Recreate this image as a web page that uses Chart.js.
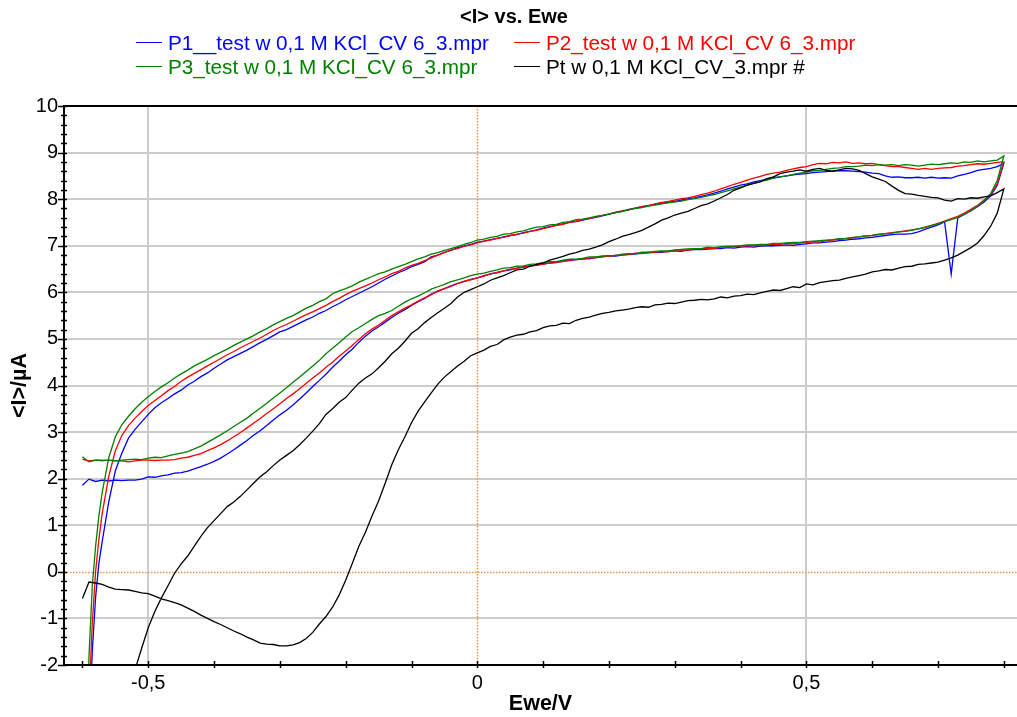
<!DOCTYPE html>
<html>
<head>
<meta charset="utf-8">
<title>&lt;I&gt; vs. Ewe</title>
<script src="https://cdn.jsdelivr.net/npm/chart.js@4/dist/chart.umd.min.js"></script>
<style>
  html, body { margin: 0; padding: 0; background: #fff; }
  #wrap { position: relative; width: 1017px; height: 717px; overflow: hidden;
          font-family: "Liberation Sans", Arial, sans-serif; }
  #plot { position: absolute; left: 0; top: 0; }
  #title { position: absolute; left: 514px; top: 5px; transform: translateX(-50%);
           font-weight: bold; font-size: 20px; line-height: 23px; white-space: nowrap; }
  #legend { position: absolute; left: 136px; top: 31px; display: grid;
            grid-template-columns: 378px auto; }
  .item { display: flex; align-items: flex-start; font-size: 20.7px; line-height: 24px; white-space: nowrap; }
  .swatch { width: 26px; height: 0; border-top: 1.5px solid; margin-top: 11px; margin-right: 6px; }
</style>
</head>
<body>
<div id="wrap">
  <canvas id="plot" width="1017" height="717"></canvas>
  <div id="title">&lt;I&gt; vs. Ewe</div>
  <div id="legend"></div>
</div>
<script>
// Potential steps of the forward sweep (V), -0.6 V up to the 0.8 V vertex
const sweepForwardE = [
  -0.60,-0.59,-0.58,-0.57,-0.56,-0.55,-0.54,-0.53,-0.52,-0.51,
  -0.50,-0.49,-0.48,-0.47,-0.46,-0.45,-0.44,-0.43,-0.42,-0.41,
  -0.40,-0.39,-0.38,-0.37,-0.36,-0.35,-0.34,-0.33,-0.32,-0.31,
  -0.30,-0.29,-0.28,-0.27,-0.26,-0.25,-0.24,-0.23,-0.22,-0.21,
  -0.20,-0.19,-0.18,-0.17,-0.16,-0.15,-0.14,-0.13,-0.12,-0.11,
  -0.10,-0.09,-0.08,-0.07,-0.06,-0.05,-0.04,-0.03,-0.02,-0.01,
  0.00,0.01,0.02,0.03,0.04,0.05,0.06,0.07,0.08,0.09,
  0.10,0.11,0.12,0.13,0.14,0.15,0.16,0.17,0.18,0.19,
  0.20,0.21,0.22,0.23,0.24,0.25,0.26,0.27,0.28,0.29,
  0.30,0.31,0.32,0.33,0.34,0.35,0.36,0.37,0.38,0.39,
  0.40,0.41,0.42,0.43,0.44,0.45,0.46,0.47,0.48,0.49,
  0.50,0.51,0.52,0.53,0.54,0.55,0.56,0.57,0.58,0.59,
  0.60,0.61,0.62,0.63,0.64,0.65,0.66,0.67,0.68,0.69,
  0.70,0.71,0.72,0.73,0.74,0.75,0.76,0.77,0.78,0.79,
  0.80
];

// Potential steps of the return sweep (V), listed from low to high potential
const sweepReturnE = [
  -0.600,-0.595,-0.590,-0.585,-0.580,-0.575,
  -0.57,-0.56,-0.55,-0.54,-0.53,-0.52,-0.51,
  -0.50,-0.49,-0.48,-0.47,-0.46,-0.45,-0.44,-0.43,-0.42,-0.41,
  -0.40,-0.39,-0.38,-0.37,-0.36,-0.35,-0.34,-0.33,-0.32,-0.31,
  -0.30,-0.29,-0.28,-0.27,-0.26,-0.25,-0.24,-0.23,-0.22,-0.21,
  -0.20,-0.19,-0.18,-0.17,-0.16,-0.15,-0.14,-0.13,-0.12,-0.11,
  -0.10,-0.09,-0.08,-0.07,-0.06,-0.05,-0.04,-0.03,-0.02,-0.01,
  0.00,0.01,0.02,0.03,0.04,0.05,0.06,0.07,0.08,0.09,
  0.10,0.11,0.12,0.13,0.14,0.15,0.16,0.17,0.18,0.19,
  0.20,0.21,0.22,0.23,0.24,0.25,0.26,0.27,0.28,0.29,
  0.30,0.31,0.32,0.33,0.34,0.35,0.36,0.37,0.38,0.39,
  0.40,0.41,0.42,0.43,0.44,0.45,0.46,0.47,0.48,0.49,
  0.50,0.51,0.52,0.53,0.54,0.55,0.56,0.57,0.58,0.59,
  0.60,0.61,0.62,0.63,0.64,0.65,0.66,0.67,0.68,0.69,
  0.70,0.71,0.72,0.73,0.74,0.75,0.76,0.77,0.78,0.79
];

// <I> (µA), forward sweep
const p1Forward = [
  1.86,1.99,1.94,1.97,1.95,1.97,1.96,1.97,1.97,1.99,
  2.04,2.03,2.06,2.08,2.12,2.13,2.16,2.21,2.26,2.31,
  2.37,2.44,2.53,2.62,2.72,2.82,2.93,3.03,3.14,3.26,
  3.37,3.47,3.58,3.71,3.84,3.98,4.11,4.24,4.39,4.52,
  4.66,4.78,4.93,5.06,5.17,5.26,5.36,5.46,5.55,5.63,
  5.72,5.80,5.87,5.96,6.02,6.08,6.14,6.19,6.23,6.28,
  6.31,6.36,6.39,6.43,6.46,6.48,6.52,6.54,6.57,6.58,
  6.61,6.63,6.64,6.67,6.68,6.70,6.72,6.72,6.75,6.76,
  6.78,6.78,6.80,6.82,6.82,6.84,6.85,6.86,6.86,6.88,
  6.89,6.88,6.91,6.92,6.92,6.93,6.94,6.94,6.96,6.95,
  6.97,6.98,6.97,6.99,7.00,7.00,7.01,7.02,7.01,7.03,
  7.04,7.06,7.06,7.08,7.09,7.11,7.12,7.14,7.15,7.17,
  7.18,7.20,7.22,7.24,7.25,7.25,7.26,7.30,7.35,7.40,
  7.45,7.51,6.39,7.60,7.67,7.75,7.84,7.94,8.07,8.30,
  8.77
];
const p2Forward = [
  2.42,2.38,2.40,2.39,2.40,2.38,2.38,2.36,2.38,2.40,
  2.40,2.39,2.40,2.40,2.41,2.44,2.46,2.50,2.54,2.60,
  2.66,2.73,2.81,2.90,2.99,3.09,3.19,3.29,3.40,3.50,
  3.61,3.72,3.82,3.93,4.05,4.16,4.27,4.39,4.50,4.63,
  4.74,4.86,4.99,5.11,5.21,5.30,5.40,5.50,5.58,5.66,
  5.73,5.81,5.88,5.95,6.03,6.08,6.13,6.19,6.24,6.27,
  6.31,6.35,6.40,6.42,6.46,6.50,6.51,6.55,6.56,6.59,
  6.60,6.63,6.65,6.66,6.69,6.70,6.71,6.74,6.74,6.77,
  6.77,6.80,6.80,6.81,6.84,6.83,6.86,6.86,6.88,6.87,
  6.90,6.91,6.90,6.93,6.93,6.95,6.94,6.97,6.97,6.98,
  6.99,7.00,7.01,7.00,7.02,7.03,7.03,7.05,7.04,7.06,
  7.07,7.09,7.08,7.11,7.12,7.14,7.15,7.17,7.19,7.21,
  7.22,7.25,7.26,7.28,7.30,7.32,7.34,7.36,7.40,7.44,
  7.48,7.53,7.58,7.63,7.70,7.78,7.87,7.98,8.10,8.33,
  8.80
];
const p3Forward = [
  2.47,2.36,2.40,2.39,2.40,2.38,2.40,2.41,2.42,2.41,
  2.44,2.46,2.45,2.49,2.52,2.55,2.58,2.64,2.70,2.78,
  2.86,2.94,3.03,3.12,3.21,3.30,3.41,3.51,3.62,3.73,
  3.84,3.95,4.07,4.18,4.30,4.42,4.54,4.68,4.80,4.92,
  5.04,5.16,5.24,5.33,5.42,5.50,5.55,5.61,5.70,5.79,
  5.86,5.92,5.99,6.07,6.12,6.17,6.23,6.27,6.31,6.36,
  6.39,6.41,6.45,6.48,6.52,6.53,6.56,6.57,6.60,6.61,
  6.64,6.66,6.66,6.69,6.71,6.71,6.73,6.76,6.76,6.78,
  6.79,6.79,6.82,6.83,6.83,6.86,6.86,6.88,6.89,6.89,
  6.91,6.92,6.93,6.94,6.94,6.97,6.96,6.98,6.99,6.99,
  7.00,7.02,7.02,7.03,7.03,7.05,7.05,7.06,7.07,7.07,
  7.09,7.10,7.11,7.12,7.13,7.15,7.16,7.18,7.19,7.21,
  7.22,7.24,7.26,7.27,7.30,7.31,7.33,7.36,7.39,7.43,
  7.47,7.52,7.56,7.61,7.68,7.75,7.85,7.97,8.12,8.40,
  8.93
];
const ptForward = [
  -0.57,-0.22,-0.24,-0.27,-0.33,-0.37,-0.38,-0.39,-0.42,-0.45,
  -0.47,-0.52,-0.58,-0.62,-0.66,-0.71,-0.78,-0.85,-0.93,-1.00,
  -1.07,-1.13,-1.20,-1.27,-1.33,-1.40,-1.46,-1.53,-1.55,-1.56,
  -1.59,-1.59,-1.57,-1.52,-1.43,-1.30,-1.12,-0.96,-0.76,-0.50,
  -0.18,0.18,0.55,0.85,1.20,1.52,1.90,2.30,2.62,2.90,
  3.20,3.45,3.65,3.84,4.03,4.18,4.30,4.42,4.52,4.64,
  4.70,4.76,4.84,4.88,4.98,5.04,5.08,5.10,5.15,5.18,
  5.24,5.28,5.29,5.34,5.33,5.40,5.44,5.47,5.51,5.55,
  5.57,5.60,5.62,5.64,5.67,5.69,5.68,5.73,5.74,5.77,
  5.76,5.79,5.82,5.83,5.85,5.84,5.86,5.90,5.88,5.92,
  5.93,5.96,5.95,5.99,6.02,6.05,6.04,6.08,6.12,6.10,
  6.18,6.16,6.21,6.23,6.25,6.26,6.30,6.33,6.36,6.39,
  6.44,6.46,6.49,6.48,6.52,6.55,6.56,6.60,6.61,6.63,
  6.65,6.69,6.74,6.80,6.88,6.96,7.06,7.22,7.42,7.70,
  8.22
];

// <I> (µA), return sweep, same order as sweepReturnE
const p1Return = [
  -9.0,-6.0,-3.4,-1.7,-0.55,0.18,
  0.65,1.50,2.17,2.55,2.87,3.06,3.22,
  3.38,3.52,3.63,3.72,3.82,3.90,4.01,4.09,4.19,4.27,
  4.37,4.46,4.55,4.62,4.69,4.76,4.84,4.92,4.99,5.07,
  5.15,5.20,5.27,5.34,5.41,5.47,5.55,5.61,5.69,5.76,
  5.84,5.91,5.98,6.05,6.12,6.20,6.28,6.35,6.42,6.48,
  6.55,6.60,6.66,6.76,6.80,6.86,6.90,6.96,6.99,7.03,
  7.07,7.10,7.13,7.16,7.19,7.22,7.24,7.28,7.31,7.34,
  7.38,7.41,7.44,7.47,7.50,7.52,7.55,7.58,7.61,7.64,
  7.68,7.71,7.74,7.78,7.81,7.84,7.86,7.89,7.91,7.93,
  7.95,7.98,8.01,8.03,8.06,8.09,8.13,8.17,8.22,8.26,
  8.30,8.33,8.37,8.40,8.43,8.46,8.48,8.50,8.52,8.54,
  8.55,8.57,8.58,8.59,8.60,8.61,8.61,8.60,8.59,8.58,
  8.56,8.55,8.50,8.47,8.48,8.46,8.46,8.47,8.45,8.47,
  8.45,8.46,8.45,8.50,8.53,8.57,8.62,8.64,8.66,8.70
];
const p2Return = [
  -9.0,-5.5,-2.7,-1.1,0.00,0.70,
  1.25,2.05,2.60,2.93,3.14,3.30,3.44,
  3.57,3.68,3.78,3.89,3.98,4.09,4.18,4.26,4.34,4.42,
  4.50,4.58,4.66,4.73,4.81,4.88,4.95,5.02,5.10,5.18,
  5.25,5.31,5.38,5.45,5.52,5.58,5.65,5.72,5.80,5.87,
  5.95,6.02,6.08,6.14,6.20,6.27,6.33,6.40,6.45,6.52,
  6.58,6.62,6.68,6.74,6.80,6.85,6.91,6.94,6.99,7.02,
  7.06,7.10,7.12,7.16,7.18,7.22,7.25,7.27,7.31,7.33,
  7.37,7.40,7.44,7.46,7.50,7.53,7.56,7.58,7.62,7.65,
  7.68,7.72,7.75,7.77,7.81,7.84,7.86,7.90,7.93,7.95,
  7.98,8.01,8.03,8.06,8.10,8.13,8.17,8.22,8.27,8.32,
  8.36,8.41,8.45,8.49,8.53,8.56,8.58,8.62,8.65,8.68,
  8.70,8.74,8.77,8.76,8.79,8.78,8.80,8.77,8.78,8.76,
  8.77,8.74,8.72,8.70,8.70,8.68,8.66,8.64,8.66,8.64,
  8.66,8.67,8.68,8.71,8.72,8.74,8.76,8.75,8.77,8.79
];
const p3Return = [
  -9.0,-4.5,-1.8,-0.3,0.55,1.20,
  1.70,2.45,2.90,3.16,3.34,3.50,3.64,
  3.76,3.87,3.97,4.06,4.16,4.25,4.33,4.42,4.49,4.56,
  4.64,4.71,4.78,4.86,4.93,5.00,5.07,5.15,5.22,5.30,
  5.37,5.44,5.50,5.58,5.66,5.72,5.80,5.86,5.97,6.03,
  6.08,6.14,6.22,6.28,6.34,6.40,6.44,6.50,6.55,6.60,
  6.66,6.72,6.76,6.82,6.85,6.90,6.94,6.98,7.03,7.07,
  7.12,7.14,7.18,7.20,7.25,7.26,7.30,7.32,7.36,7.40,
  7.41,7.45,7.46,7.50,7.52,7.56,7.57,7.60,7.63,7.65,
  7.68,7.71,7.74,7.77,7.80,7.82,7.85,7.87,7.90,7.92,
  7.94,7.96,7.99,8.01,8.04,8.07,8.10,8.14,8.18,8.22,
  8.26,8.30,8.34,8.38,8.41,8.45,8.48,8.50,8.53,8.56,
  8.58,8.61,8.62,8.64,8.66,8.67,8.70,8.70,8.71,8.73,
  8.72,8.74,8.73,8.74,8.72,8.74,8.73,8.71,8.73,8.75,
  8.74,8.76,8.78,8.77,8.80,8.79,8.82,8.80,8.82,8.84
];
const ptReturn = [
  -6.0,-5.6,-5.2,-4.9,-4.6,-4.3,
  -4.0,-3.5,-3.1,-2.75,-2.42,-2.10,-1.64,
  -1.20,-0.85,-0.56,-0.30,-0.03,0.17,0.34,0.55,0.76,0.95,
  1.10,1.25,1.40,1.50,1.62,1.76,1.90,2.04,2.15,2.28,
  2.40,2.50,2.60,2.73,2.87,3.02,3.18,3.38,3.50,3.64,
  3.74,3.90,4.05,4.16,4.25,4.38,4.52,4.68,4.80,4.95,
  5.12,5.22,5.35,5.46,5.56,5.66,5.76,5.90,6.00,6.06,
  6.12,6.18,6.26,6.31,6.36,6.42,6.48,6.50,6.56,6.60,
  6.63,6.69,6.73,6.77,6.82,6.85,6.90,6.93,6.97,7.02,
  7.09,7.14,7.20,7.24,7.28,7.33,7.40,7.47,7.55,7.60,
  7.66,7.70,7.74,7.80,7.86,7.90,7.96,8.03,8.10,8.19,
  8.24,8.30,8.34,8.37,8.44,8.48,8.55,8.58,8.60,8.63,
  8.60,8.64,8.66,8.62,8.60,8.63,8.66,8.65,8.62,8.55,
  8.48,8.43,8.38,8.28,8.19,8.12,8.11,8.08,8.06,8.04,
  8.03,7.98,7.96,8.01,8.00,8.03,8.02,8.05,8.07,8.14
];

const seriesNames = [
  'P1__test w 0,1 M KCl_CV 6_3.mpr',
  'P2_test w 0,1 M KCl_CV 6_3.mpr',
  'P3_test w 0,1 M KCl_CV 6_3.mpr',
  'Pt w 0,1 M KCl_CV_3.mpr #'
];
const seriesColors = ['#0000ff', '#ff0000', '#008000', '#000000'];

// One closed CV loop: forward sweep, then the return sweep back down to -0.6 V
function cvLoop(forward, back) {
  const pts = sweepForwardE.map((e, k) => ({ x: e, y: forward[k] }));
  for (let k = sweepReturnE.length - 1; k >= 0; k--) pts.push({ x: sweepReturnE[k], y: back[k] });
  return pts;
}
const loops = [
  cvLoop(p1Forward, p1Return),
  cvLoop(p2Forward, p2Return),
  cvLoop(p3Forward, p3Return),
  cvLoop(ptForward, ptReturn)
];

// Legend laid out in two fixed columns
const legendBox = document.getElementById('legend');
seriesNames.forEach((name, i) => {
  const item = document.createElement('div');
  item.className = 'item';
  item.style.color = seriesColors[i];
  const sw = document.createElement('span');
  sw.className = 'swatch';
  sw.style.borderColor = seriesColors[i];
  const tx = document.createElement('span');
  tx.textContent = name;
  item.appendChild(sw);
  item.appendChild(tx);
  legendBox.appendChild(item);
});

// Grid, zero lines, frame and minor ticks, all placed through the chart scales
const frameDecor = {
  id: 'frameDecor',
  beforeDatasetsDraw(chart) {
    const { ctx, chartArea: a, scales: { x, y } } = chart;
    ctx.save();
    ctx.lineWidth = 2;
    ctx.strokeStyle = '#cccccc';
    ctx.beginPath();
    y.ticks.forEach(t => {
      if (t.value === 0 || t.value === y.min || t.value === y.max) return;
      const py = Math.round(y.getPixelForValue(t.value));
      ctx.moveTo(a.left, py); ctx.lineTo(a.right, py);
    });
    x.ticks.forEach(t => {
      if (t.value === 0) return;
      const px = Math.round(x.getPixelForValue(t.value));
      ctx.moveTo(px, a.top); ctx.lineTo(px, a.bottom);
    });
    ctx.stroke();
    // zero lines, dotted orange
    ctx.strokeStyle = '#e8943f';
    ctx.lineWidth = 1.5;
    ctx.setLineDash([1.5, 1.5]);
    ctx.beginPath();
    const y0 = Math.round(y.getPixelForValue(0)) + 0.5;
    ctx.moveTo(a.left, y0); ctx.lineTo(a.right, y0);
    const x0 = Math.round(x.getPixelForValue(0)) + 0.5;
    ctx.moveTo(x0, a.top); ctx.lineTo(x0, a.bottom);
    ctx.stroke();
    ctx.restore();
  },
  afterDatasetsDraw(chart) {
    const { ctx, chartArea: a, scales: { x, y } } = chart;
    ctx.save();
    ctx.strokeStyle = '#000';
    ctx.lineWidth = 2;
    ctx.beginPath();
    ctx.moveTo(a.left, a.top); ctx.lineTo(a.right, a.top);
    ctx.moveTo(a.left, a.top - 1); ctx.lineTo(a.left, a.bottom + 1);
    ctx.moveTo(a.left, a.bottom); ctx.lineTo(a.right, a.bottom);
    ctx.stroke();
    ctx.lineWidth = 1.5;
    ctx.beginPath();
    // current axis: minor every 0.2 µA, longer outward mark at each labelled value
    const nY = Math.round((y.max - y.min) / 0.2);
    for (let k = 0; k <= nY; k++) {
      const v = y.min + k * 0.2;
      const py = Math.round(y.getPixelForValue(v)) + 0.5;
      const major = Math.abs(v - Math.round(v)) < 1e-6;
      ctx.moveTo(a.left - (major ? 6 : 3), py);
      ctx.lineTo(a.left + 3, py);
    }
    // potential axis: marks every 0.1 V
    const k0 = Math.ceil(x.min / 0.1 - 1e-6), k1 = Math.floor(x.max / 0.1 + 1e-6);
    for (let k = k0; k <= k1; k++) {
      const px = Math.round(x.getPixelForValue(k * 0.1)) + 0.5;
      ctx.moveTo(px, a.bottom - 4);
      ctx.lineTo(px, a.bottom + 3);
    }
    ctx.stroke();
    ctx.restore();
  }
};

Chart.defaults.font.family = '"Liberation Sans", Arial, sans-serif';
Chart.defaults.color = '#000';

new Chart(document.getElementById('plot'), {
  type: 'line',
  data: {
    datasets: loops.map((pts, i) => ({
      label: seriesNames[i],
      data: pts,
      borderColor: seriesColors[i],
      borderWidth: 1.3,
      pointRadius: 0,
      tension: 0,
      fill: false,
      order: 3 - i
    }))
  },
  options: {
    responsive: false,
    animation: false,
    devicePixelRatio: 1,
    parsing: false,
    layout: { padding: { top: 106, left: 0, right: 0, bottom: 0 } },
    plugins: { legend: { display: false }, title: { display: false }, tooltip: { enabled: false } },
    scales: {
      x: {
        type: 'linear',
        min: -0.628,
        max: 0.82,
        grid: { display: false, drawTicks: false },
        border: { display: false },
        ticks: {
          stepSize: 0.5,
          includeBounds: false,
          padding: 6,
          font: { size: 20 },
          callback: v => (Math.round(v * 10) / 10).toString().replace('.', ',')
        },
        title: { display: true, text: 'Ewe/V', font: { size: 21.5, weight: 'bold' }, padding: { top: 0, bottom: 0 } },
        afterFit: s => { s.height = 52; }
      },
      y: {
        type: 'linear',
        min: -2,
        max: 10,
        grid: { display: false, drawTicks: false },
        border: { display: false },
        ticks: { stepSize: 1, padding: 6, font: { size: 20 } },
        title: { display: true, text: '<I>/µA', font: { size: 21.5, weight: 'bold' }, padding: { top: 7, bottom: 0 } },
        afterFit: s => { s.width = 64; }
      }
    }
  },
  plugins: [frameDecor]
});
</script>
</body>
</html>
